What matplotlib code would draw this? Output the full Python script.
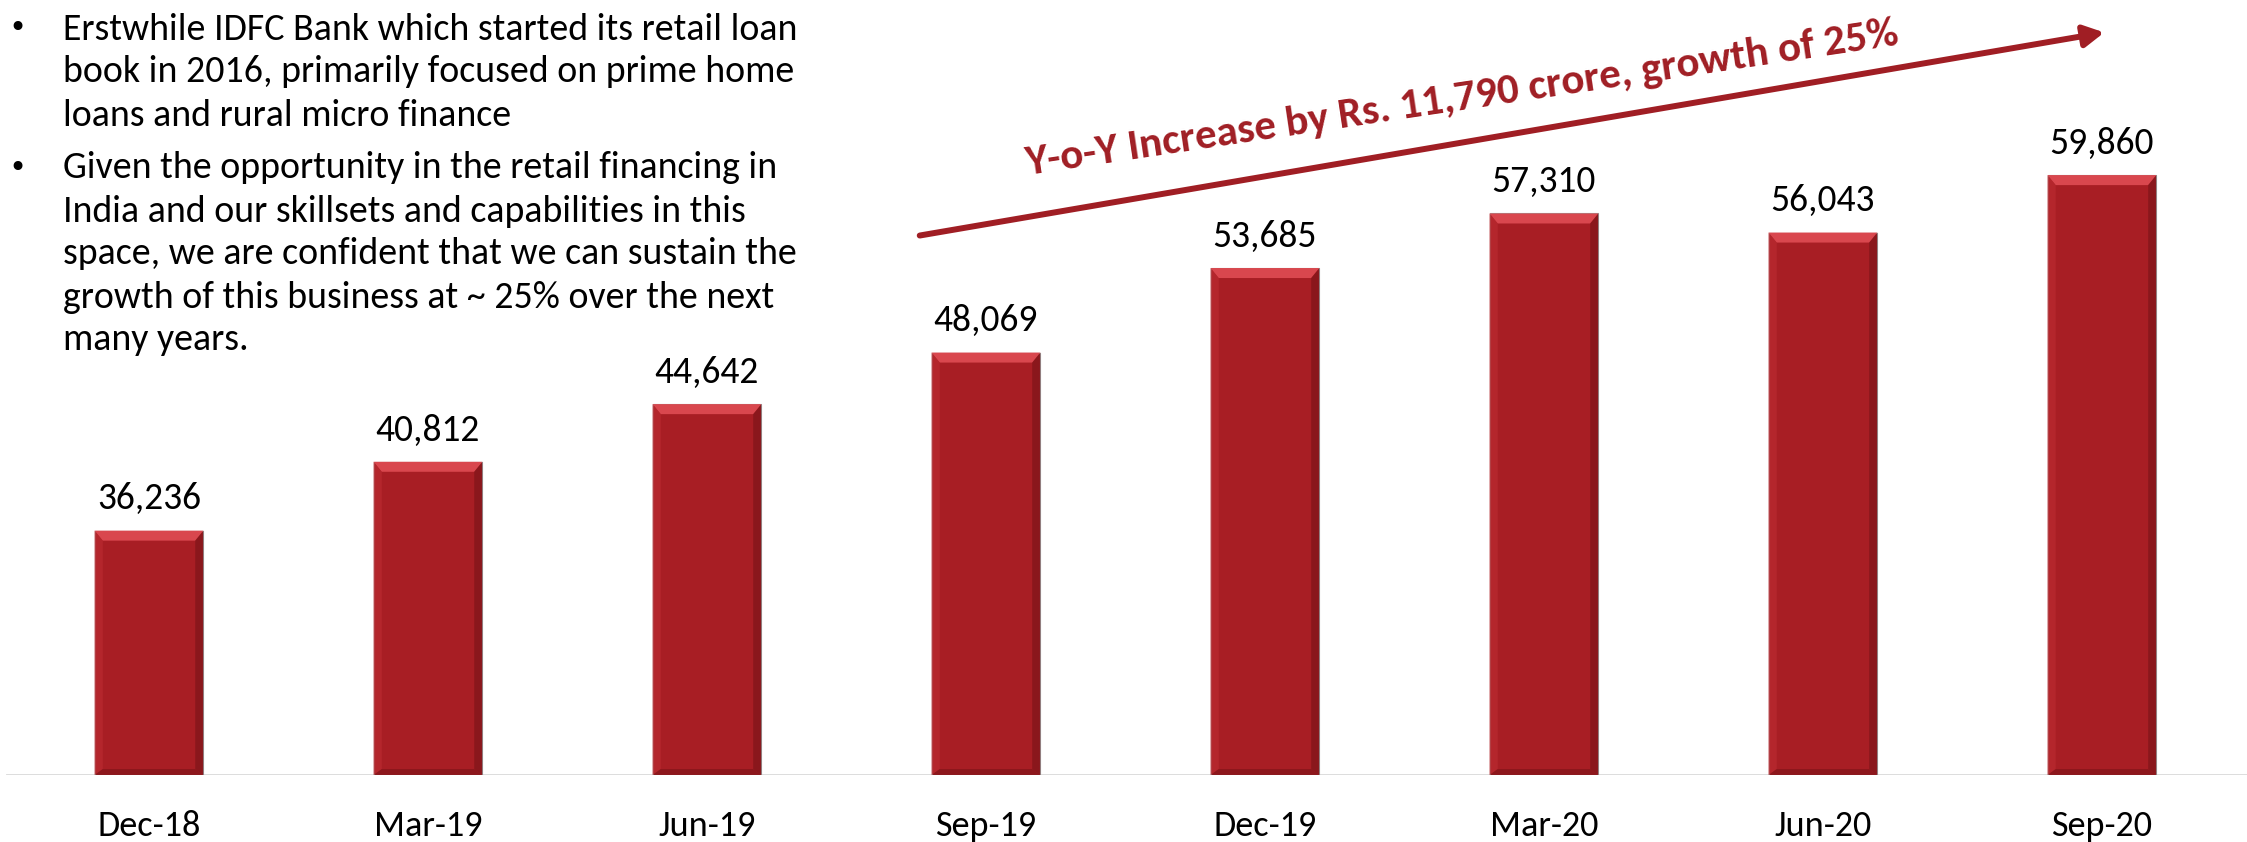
import numpy as np
import matplotlib
matplotlib.use("Agg")
import matplotlib.pyplot as plt
from matplotlib import font_manager
from matplotlib.patches import Polygon, FancyArrowPatch
from matplotlib.transforms import blended_transform_factory

# ========== data ==========
quarters = ["Dec-18", "Mar-19", "Jun-19", "Sep-19", "Dec-19", "Mar-20", "Jun-20", "Sep-20"]
retail_book = [36236, 40812, 44642, 48069, 53685, 57310, 56043, 59860]

bullets = [
    ["Erstwhile IDFC Bank which started its retail loan",
     "book in 2016, primarily focused on prime home",
     "loans and rural micro finance"],
    ["Given the opportunity in the retail financing in",
     "India and our skillsets and capabilities in this",
     "space, we are confident that we can sustain the",
     "growth of this business at ~ 25% over the next",
     "many years."],
]
arrow_text = "Y-o-Y Increase by Rs. 11,790 crore, growth of 25%"

# ========== fonts ==========
available = {f.name for f in font_manager.fontManager.ttflist}
def pick(*names):
    for n in names:
        if n in available:
            return n
    return "DejaVu Sans"

calib = pick("Carlito", "Fira Sans Condensed", "Liberation Sans Narrow", "Liberation Sans")

# ========== colours ==========
bar_col = "#A81E24"
bar_top = "#D9474E"
bar_dark = "#731216"
bar_left = "#B8292F"
arrow_col = "#A01E24"

W, H, DPI = 2247, 842, 100
fig = plt.figure(figsize=(W / DPI, H / DPI), dpi=DPI)
base_px = 775
ax = fig.add_axes([0, 1 - base_px / H, 1, base_px / H])
ax.set_axis_off()

y0 = 20000
px_per_unit = 0.01505
ax.set_ylim(y0, y0 + base_px / px_per_unit)
ax.set_xlim(-0.534, 7.52)

x = np.arange(len(quarters))
width = 0.39
bars = ax.bar(x, np.array(retail_book) - y0, bottom=y0, width=width, color=bar_col,
              edgecolor="#9a9a9a", linewidth=0.8, zorder=2)

# bevel look of the bars
bev_x = width * 0.075
bev_y = 10 / px_per_unit
for b in bars:
    l, r = b.get_x(), b.get_x() + b.get_width()
    t, bt = b.get_y() + b.get_height(), b.get_y()
    ax.add_patch(Polygon([[l, t], [r, t], [r - bev_x, t - bev_y], [l + bev_x, t - bev_y]],
                         closed=True, facecolor=bar_top, edgecolor="none", zorder=3))
    ax.add_patch(Polygon([[r, t], [r, bt], [r - bev_x, bt + bev_y * 0.6], [r - bev_x, t - bev_y]],
                         closed=True, facecolor=bar_dark, edgecolor="none", alpha=0.55, zorder=3))
    ax.add_patch(Polygon([[l, t], [l, bt], [l + bev_x, bt + bev_y * 0.6], [l + bev_x, t - bev_y]],
                         closed=True, facecolor=bar_left, edgecolor="none", alpha=0.8, zorder=3))
    ax.add_patch(Polygon([[l, bt], [r, bt], [r - bev_x, bt + bev_y * 0.6], [l + bev_x, bt + bev_y * 0.6]],
                         closed=True, facecolor=bar_dark, edgecolor="none", alpha=0.5, zorder=3))

# baseline
ax.axhline(y0, xmin=0.003, xmax=1, color="#d9d9d9", linewidth=2, zorder=1)

# value labels
for xi, v in zip(x, retail_book):
    ax.annotate(f"{v:,}", xy=(xi, v), xytext=(0, 11), textcoords="offset points",
                ha="center", va="bottom", fontsize=27, family=calib, color="black")

# category labels
tr = blended_transform_factory(ax.transData, fig.transFigure)
for xi, q in zip(x, quarters):
    ax.text(xi, 1 - 826 / H, q, transform=tr, ha="center", va="center",
            fontsize=26, family=calib, color="black")

# bullet text
line_y = [29, 72, 115, 168, 211, 254, 297, 340]
k = 0
for para in bullets:
    for j, line in enumerate(para):
        yy = 1 - line_y[k] / H
        if j == 0:
            fig.text(8 / W, yy, "\u2022", ha="left", va="center", fontsize=22, family="DejaVu Sans")
        fig.text(63 / W, yy, line, ha="left", va="center", fontsize=27.3, family=calib, color="black")
        k += 1

# growth arrow + text
fig.patches.append(FancyArrowPatch(
    (917 / W, 1 - 236 / H), (2107 / W, 1 - 32 / H), transform=fig.transFigure,
    arrowstyle="-|>,head_length=12,head_width=6.5", color=arrow_col, linewidth=4.3, mutation_scale=1))
fig.text(1464 / W, 1 - 109 / H, arrow_text, rotation=8.5, rotation_mode="anchor",
         ha="center", va="baseline", fontsize=31, fontweight="bold", family=calib, color=arrow_col)

fig.savefig("out.png", dpi=DPI)
